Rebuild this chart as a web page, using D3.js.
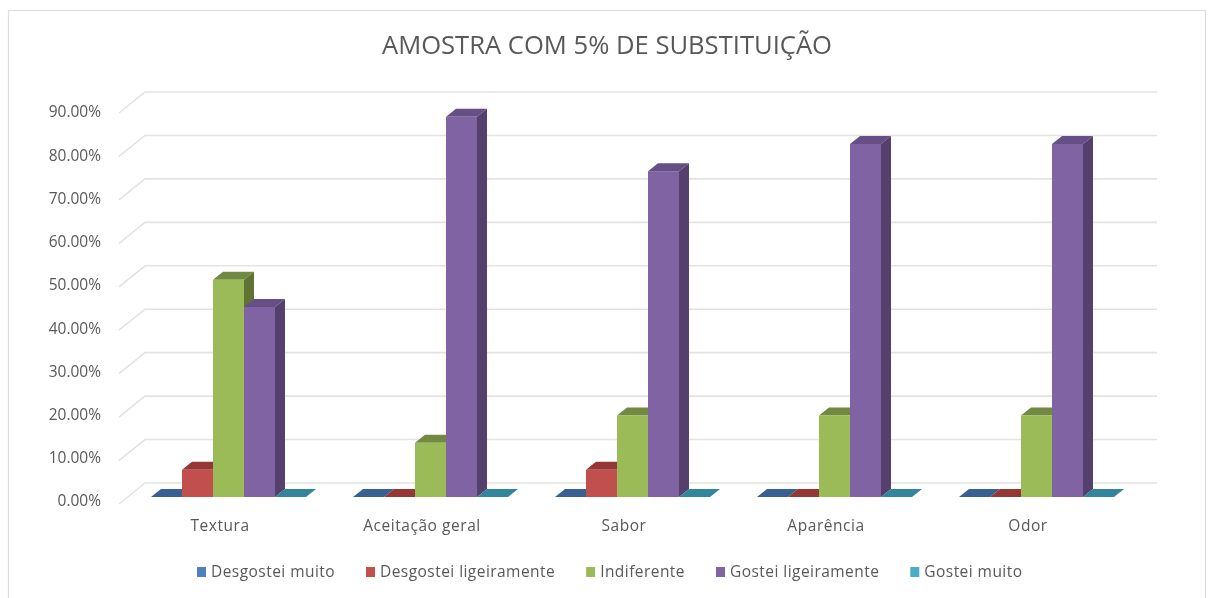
<!DOCTYPE html>
<html lang="en">

<head>
    <meta charset="UTF-8">
    <title>Amostra com 5% de substituição</title>
    <script src="https://d3js.org/d3.v7.min.js"></script>
    <style>
        html, body { margin: 0; padding: 0; background: #fff; overflow: hidden; }
        svg { display: block; font-family: "Open Sans", sans-serif; }
        text { fill: #595959; }
    </style>
</head>

<body>
    <div id="chart"></div>

    <script>
        const title = "AMOSTRA COM 5% DE SUBSTITUIÇÃO";
        const categories = ["Textura", "Aceitação geral", "Sabor", "Aparência", "Odor"];
        const seriesNames = ["Desgostei muito", "Desgostei ligeiramente", "Indiferente", "Gostei ligeiramente", "Gostei muito"];
        const desgosteiMuito = [0, 0, 0, 0, 0];
        const desgosteiLigeiramente = [6.25, 0, 6.25, 0, 0];
        const indiferente = [50, 12.5, 18.75, 18.75, 18.75];
        const gosteiLigeiramente = [43.75, 87.5, 75, 81.25, 81.25];
        const gosteiMuito = [0, 0, 0, 0, 0];
        const tickValues = [0, 10, 20, 30, 40, 50, 60, 70, 80, 90];

        const seriesValues = [desgosteiMuito, desgosteiLigeiramente, indiferente, gosteiLigeiramente, gosteiMuito];
        const frontColors = ["#4f81bd", "#c0504d", "#9bbb59", "#8064a2", "#4bacc6"];
        const topColors = ["#376092", "#953735", "#71893f", "#664f85", "#31859c"];
        const sideColors = ["#2f5582", "#7f2f2d", "#5f7335", "#54406d", "#2a7186"];

        const width = 1211;
        const height = 598;

        const svg = d3.select("#chart").append("svg")
            .attr("width", width)
            .attr("height", height);

        // soft blur, the reference is a scaled screenshot
        const filter = svg.append("defs").append("filter").attr("id", "soft");
        filter.append("feGaussianBlur").attr("stdDeviation", 0.6);

        const root = svg.append("g").attr("filter", "url(#soft)");

        root.append("rect")
            .attr("x", 8.5).attr("y", 10.5)
            .attr("width", 1197).attr("height", 600)
            .attr("fill", "#fff")
            .attr("stroke", "#dcdcdc")
            .attr("stroke-width", 1.2);

        root.append("text")
            .attr("x", 607).attr("y", 54)
            .attr("text-anchor", "middle")
            .style("font-size", "25.6px")
            .text(title);

        // front plane of the floor, the walls sit one depth behind it
        const x = d3.scaleBand().domain(categories).range([118, 1128]);
        const y = d3.scaleLinear().domain([0, 90]).range([504, 113]);
        const yLabel = d3.scaleLinear().domain([0, 90]).range([501, 112]);
        const wall = { dx: 27, dy: -21 };
        const barPlane = { dx: 9.5, dy: -7 };
        const barDepth = { dx: 10, dy: -8 };

        const inner = d3.scaleBand().domain(seriesNames).range([0, 155]);
        const innerStart = (x.bandwidth() - 155) / 2 + barPlane.dx;

        // gridlines
        const grid = root.append("g")
            .attr("fill", "none")
            .attr("stroke", "#e3e3e3")
            .attr("stroke-width", 1.6);
        grid.selectAll("path")
            .data(tickValues)
            .enter().append("path")
            .attr("d", d => "M" + (x.range()[0] + 1) + "," + y(d) +
                "L" + (x.range()[0] + wall.dx) + "," + (y(d) + wall.dy) +
                "H" + (x.range()[1] + wall.dx + 2));

        // y labels
        const yAxis = root.append("g")
            .attr("transform", "translate(104,0)")
            .call(d3.axisLeft(yLabel).tickValues(tickValues).tickSize(0).tickFormat(d => d3.format(".2f")(d) + "%"));
        yAxis.select(".domain").remove();
        yAxis.selectAll("text")
            .style("font-family", "'Open Sans', sans-serif")
            .style("font-size", "15.5px");

        // x labels
        const xAxis = root.append("g")
            .attr("transform", "translate(1,517)")
            .call(d3.axisBottom(x).tickSize(0));
        xAxis.select(".domain").remove();
        xAxis.selectAll("text")
            .style("font-family", "'Open Sans', sans-serif")
            .style("font-size", "15.5px")
            .style("letter-spacing", "0.55px");

        // bars
        const baseY = y(0) + barPlane.dy;
        const barHeight = d => y(0) - y(d);
        const bw = inner.bandwidth();

        categories.forEach((cat, c) => {
            const group = root.append("g")
                .attr("transform", "translate(" + (x(cat) + innerStart) + "," + baseY + ")");
            seriesNames.forEach((name, s) => {
                const value = seriesValues[s][c];
                const h = barHeight(value);
                const bx = inner(name);
                const g = group.append("g");
                // top
                g.append("path")
                    .attr("fill", topColors[s])
                    .attr("d", "M" + bx + "," + (-h) +
                        "l" + barDepth.dx + "," + barDepth.dy +
                        "h" + bw +
                        "l" + (-barDepth.dx) + "," + (-barDepth.dy) + "Z");
                if (value > 0) {
                    // side
                    g.append("path")
                        .attr("fill", sideColors[s])
                        .attr("d", "M" + (bx + bw) + "," + (-h) +
                            "l" + barDepth.dx + "," + barDepth.dy +
                            "v" + h +
                            "l" + (-barDepth.dx) + "," + (-barDepth.dy) + "Z");
                    // front
                    g.append("rect")
                        .attr("fill", frontColors[s])
                        .attr("x", bx)
                        .attr("y", -h)
                        .attr("width", bw)
                        .attr("height", h);
                }
            });
        });

        // legend, laid out from the text widths
        const legend = root.append("g").attr("transform", "translate(197,572)");
        let legendX = 0;
        seriesNames.forEach((name, s) => {
            legend.append("rect")
                .attr("x", legendX).attr("y", -5)
                .attr("width", 9).attr("height", 10)
                .attr("fill", frontColors[s]);
            const label = legend.append("text")
                .attr("x", legendX + 14)
                .attr("dy", "0.35em")
                .style("font-size", "15.5px")
                .style("letter-spacing", "0.45px")
                .text(name);
            legendX += 14 + label.node().getComputedTextLength() + 31;
        });
    </script>

</body>

</html>
